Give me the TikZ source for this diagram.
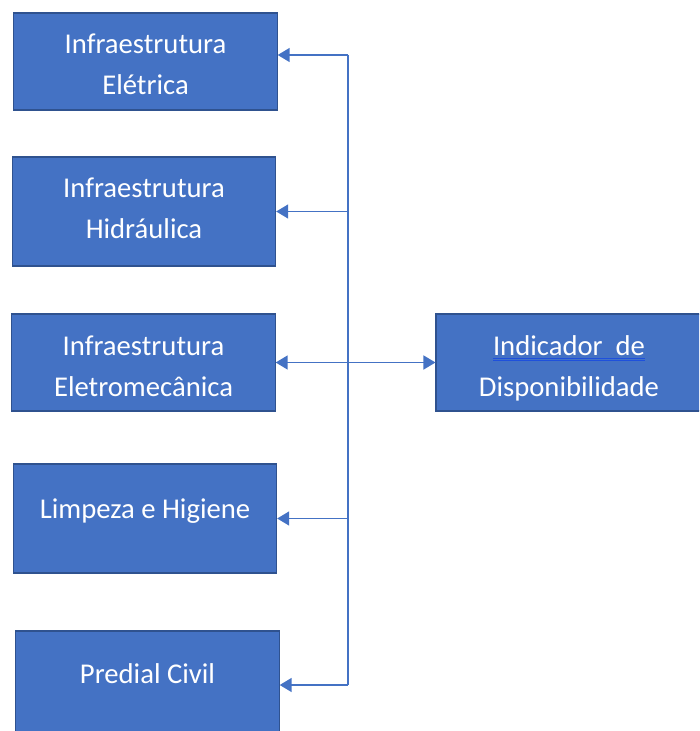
\documentclass[tikz,border=0pt]{standalone}
\usepackage{fontspec}
\setmainfont{Carlito}
\usetikzlibrary{arrows.meta}

\definecolor{boxfill}{RGB}{68,114,196}
\definecolor{boxedge}{RGB}{47,82,143}
\definecolor{linkblue}{RGB}{68,114,196}
\definecolor{proofblue}{RGB}{30,80,220}

% word with the blue proofing double underline
\newcommand\proofmark[1]{\setbox0\hbox{#1}\rlap{\copy0}{\color{proofblue}\rlap{\rule[-3.2pt]{\wd0}{0.6pt}}\rule[-4.6pt]{\wd0}{0.6pt}}}
% lines of a box, moved up (or down) by #1
\newcommand\boxlines[2]{\raisebox{#1}[\height][\depth]{\begin{tabular}{@{}c@{}}#2\end{tabular}}}

\tikzset{
  blockbox/.style={draw=boxedge, fill=boxfill, text=white, line width=0.8pt,
    minimum width=197.5pt, minimum height=72.75pt, inner sep=0pt, align=center,
    font=\fontsize{21.5}{30.75}\selectfont},
  tallbox/.style={blockbox, minimum height=81.75pt},
  link/.style={draw=linkblue, line width=1.25pt},
  linkto/.style={link, -{Triangle[length=9pt,width=10.5pt]}},
}

\begin{document}
\begin{tikzpicture}[x=0.75pt,y=0.75pt,yscale=-1,xscale=1]
\useasboundingbox (0,0) rectangle (699,731);
\clip (0,0) rectangle (699,731);

%Shape: Rectangle [Infraestrutura Eletrica]
\node[blockbox] (eletrica) at (145.5,61.5) {\boxlines{-3.6pt}{Infraestrutura\\Elétrica}};
%Shape: Rectangle [Infraestrutura Hidraulica]
\node[tallbox] (hidraulica) at (144,211.5) {\boxlines{1.6pt}{Infraestrutura\\Hidráulica}};
%Shape: Rectangle [Infraestrutura Eletromecanica]
\node[blockbox] (eletromec) at (143.5,362.5) {\boxlines{-3.6pt}{Infraestrutura\\Eletromecânica}};
%Shape: Rectangle [Limpeza e Higiene]
\node[tallbox] (limpeza) at (145,518.5) {\raisebox{5.8pt}[\height][\depth]{Limpeza e Higiene}};
%Shape: Rectangle [Predial Civil]
\node[tallbox] (predial) at (147.5,685.5) {\raisebox{8.6pt}[\height][\depth]{Predial Civil}};
%Shape: Rectangle [Indicador de Disponibilidade]
\node[blockbox, minimum width=199.5pt] (indicador) at (569,362.5) {\boxlines{-3.6pt}{\proofmark{Indicador~~de}\\Disponibilidade}};

%Straight Lines [trunk]
\coordinate (trunktop) at (348,55);
\coordinate (trunkbot) at (348,685);
\coordinate (hub) at (348,362.5);
\draw[link] (trunktop) -- (trunkbot);

%Straight Lines [arrows to the left]
\draw[linkto] (trunktop) -- (trunktop -| eletrica.east);
\draw[linkto] (hub |- hidraulica.east) -- (hidraulica.east);
\draw[linkto] (hub) -- (eletromec.east);
\draw[linkto] (hub |- limpeza.east) -- (limpeza.east);
\draw[linkto] (trunkbot) -- (trunkbot -| predial.east);
%Straight Lines [arrow to the indicator]
\draw[linkto] (hub) -- (indicador.west);

\end{tikzpicture}
\end{document}
